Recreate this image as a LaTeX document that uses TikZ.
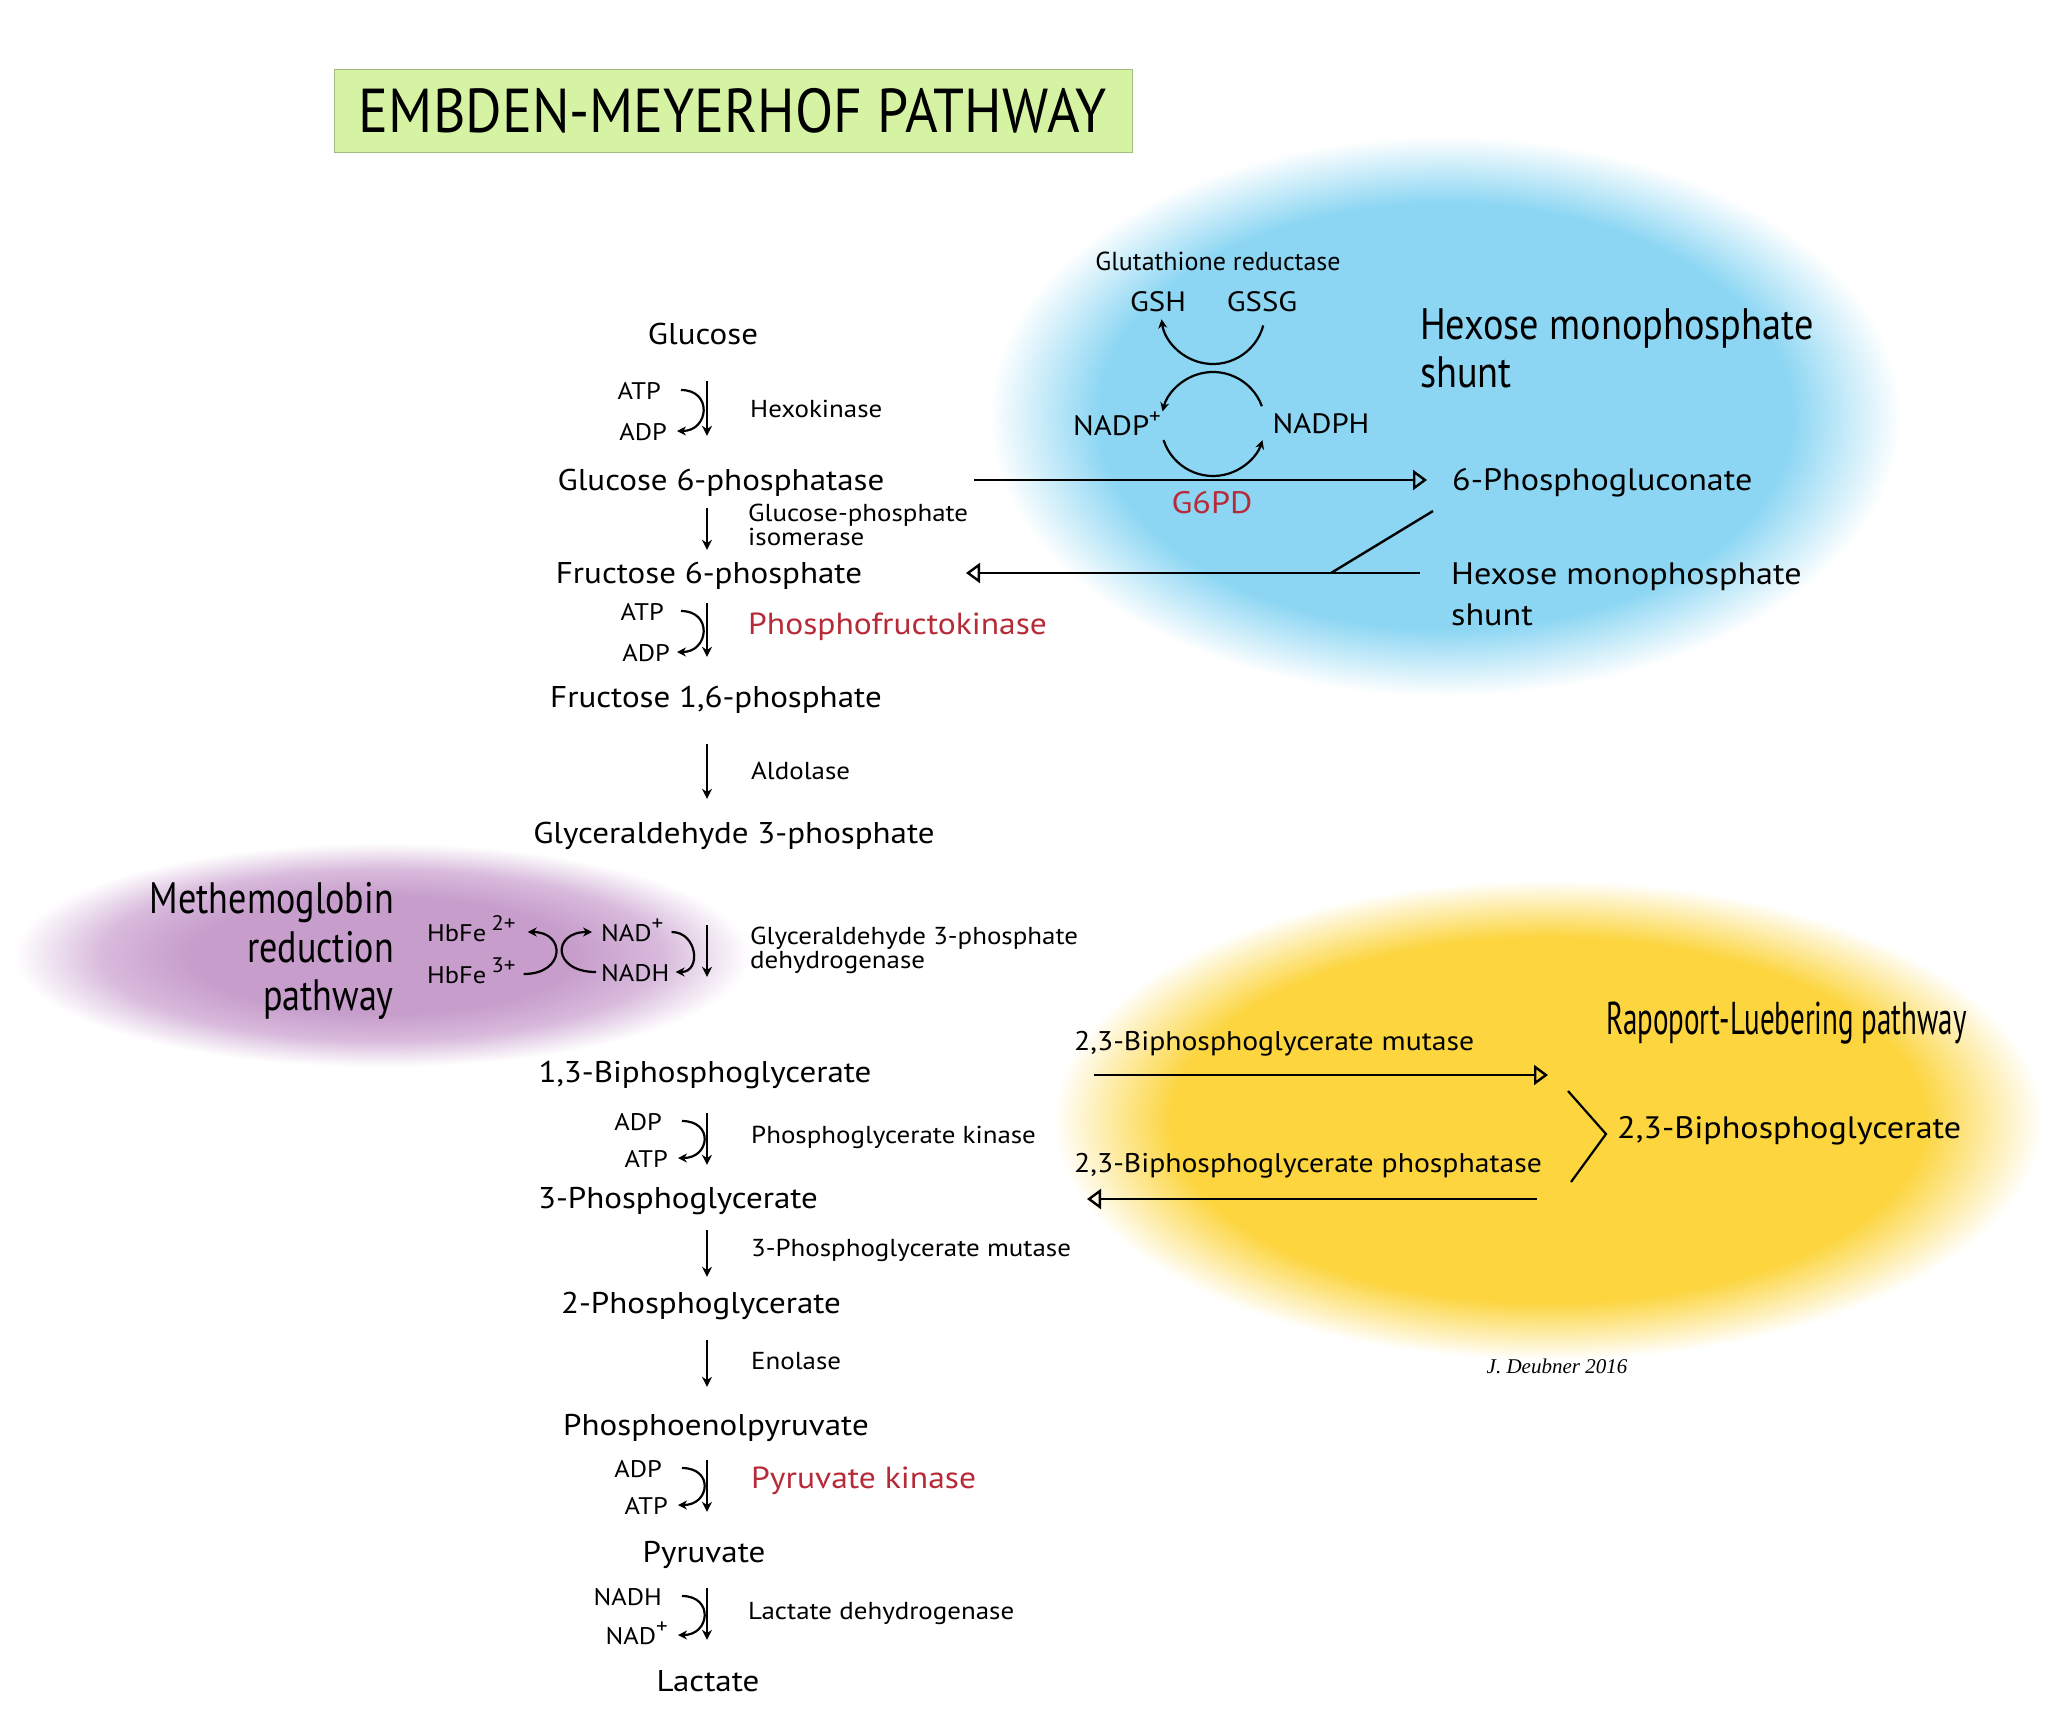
\documentclass[tikz,border=0pt]{standalone}
\usepackage{fontspec}
\setmainfont{PT Sans}[FakeStretch=1.1]
\newfontfamily\plainfont{PT Sans}
\newfontfamily\condA[FakeStretch=0.9]{PT Sans}
\newfontfamily\condB[FakeStretch=0.87]{PT Sans}
\newfontfamily\condC[FakeStretch=0.82]{PT Sans}
\newfontfamily\condD[FakeStretch=0.63]{PT Sans}
\newfontfamily\sigfont{Liberation Serif}
\usetikzlibrary{arrows.meta}
\definecolor{hmpblue}{RGB}{140,214,243}
\definecolor{rlyellow}{RGB}{252,213,63}
\definecolor{mhpurple}{RGB}{198,157,203}
\definecolor{mhpurplelt}{RGB}{216,186,220}
\definecolor{titlegreen}{RGB}{213,243,162}
\definecolor{titleedge}{RGB}{160,190,130}
\definecolor{enzred}{RGB}{183,43,56}
\pgfdeclareradialshading{blueglow}{\pgfpointorigin}{color(0bp)=(hmpblue); color(19bp)=(hmpblue); color(25bp)=(white); color(50bp)=(white)}
\pgfdeclareradialshading{yellowglow}{\pgfpointorigin}{color(0bp)=(rlyellow); color(19bp)=(rlyellow); color(25bp)=(white); color(50bp)=(white)}
\pgfdeclareradialshading{purpleglow}{\pgfpointorigin}{color(0bp)=(mhpurple); color(13bp)=(mhpurple); color(19bp)=(mhpurplelt); color(25bp)=(white); color(50bp)=(white)}
\newcommand\supk[1]{\raisebox{0.42em}{\fontsize{21}{21}\selectfont #1}}
\tikzset{
 met/.style={font=\fontsize{30}{36}\selectfont, inner sep=0pt, text height=21pt, text depth=0pt},
 enz/.style={font=\fontsize{24.5}{24}\selectfont, inner sep=0pt, anchor=west, align=left},
 enzr/.style={font=\fontsize{30.5}{36}\selectfont, inner sep=0pt, anchor=west, text=enzred},
 cof/.style={font=\fontsize{24}{30}\selectfont, inner sep=0pt, text height=18pt, text depth=0pt},
 dn/.style={line width=2.2pt, -{Stealth[length=10pt,width=10pt]}},
 curv/.style={line width=2.2pt, -{Stealth[length=9pt,width=9pt]}},
 opentip/.style={line width=2.4pt, -{Triangle[open,length=14pt,width=20pt,line width=2.4pt]}},
 plain/.style={line width=2.4pt},
}
\begin{document}
\begin{tikzpicture}[x=1pt,y=-1pt]
\useasboundingbox (0,0) rectangle (2048,1716);
\fill[white] (0,0) rectangle (2048,1716);
% glow regions
\shade[shading=blueglow] (1445,416) ellipse[x radius=456, y radius=280];
\shade[shading=yellowglow] (1548,1120) ellipse[x radius=495, y radius=240];
\shade[shading=purpleglow] (382,955) ellipse[x radius=368, y radius=112];
% title
\node[draw=titleedge, line width=1pt, fill=titlegreen, minimum width=798pt, minimum height=83pt, inner sep=0pt,
      font=\condA\fontsize{62}{62}\selectfont] (title) at (733,111) {EMBDEN-MEYERHOF PATHWAY};
% metabolites
\node[met] (glc) at (703,334) {Glucose};
\node[met] (g6p) at (721,480) {Glucose 6-phosphatase};
\node[met] (f6p) at (709,573) {Fructose 6-phosphate};
\node[met] (f16) at (716,697) {Fructose 1,6-phosphate};
\node[met] (g3p) at (734,833) {Glyceraldehyde 3-phosphate};
\node[met] (bpg13) at (705,1072) {1,3-Biphosphoglycerate};
\node[met] (pg3) at (678,1198) {3-Phosphoglycerate};
\node[met] (pg2) at (701,1303) {2-Phosphoglycerate};
\node[met] (pep) at (716,1425) {Phosphoenolpyruvate};
\node[met] (pyr) at (704,1552) {Pyruvate};
\node[met] (lac) at (708,1681) {Lactate};
% enzymes
\node[enz] (hex) at (750,409) {Hexokinase};
\node[enz] (gpi) at (748,525) {Glucose-phosphate\\isomerase};
\node[enzr] (pfk) at (748,627) {Phosphofructokinase};
\node[enz] (ald) at (751,771) {Aldolase};
\node[enz] (gapdh) at (750,950) {Glyceraldehyde 3-phosphate\\dehydrogenase};
\node[enz] (pgk) at (751,1137) {Phosphoglycerate kinase};
\node[enz] (pgm) at (751,1250) {3-Phosphoglycerate mutase};
\node[enz] (eno) at (751,1361) {Enolase};
\node[enzr] (pk) at (751,1481) {Pyruvate kinase};
\node[enz] (ldh) at (748,1614) {Lactate dehydrogenase};
% cofactors
\node[cof, anchor=east] (atpA) at (661,390) {ATP};
\node[cof, anchor=east] (adpA) at (667,431) {ADP};
\node[cof, anchor=east] (atpB) at (664,611) {ATP};
\node[cof, anchor=east] (adpB) at (670,652) {ADP};
\node[cof, anchor=west] (nadA) at (601,932) {NAD\supk{+}};
\node[cof, anchor=west] (nadhA) at (601,972) {NADH};
\node[cof, anchor=east] (adpC) at (662,1121) {ADP};
\node[cof, anchor=east] (atpC) at (668,1158) {ATP};
\node[cof, anchor=east] (adpD) at (662,1468) {ADP};
\node[cof, anchor=east] (atpD) at (668,1505) {ATP};
\node[cof, anchor=east] (nadhD) at (662,1596) {NADH};
\node[cof, anchor=east] (nadD) at (668,1635) {NAD\supk{+}};
% methemoglobin
\node[cof, anchor=west] (hb2) at (427,932) {HbFe\hspace{5pt}\supk{2+}};
\node[cof, anchor=west] (hb3) at (427,974) {HbFe\hspace{5pt}\supk{3+}};
\node[font=\condC\fontsize{44}{48.5}\selectfont, align=right, anchor=east, inner sep=0pt] (mhlabel) at (394,951) {Methemoglobin\\reduction\\pathway};
% vertical arrows
\coordinate (ax) at (707,0);
\draw[dn, shorten <=36.5pt, shorten >=33.5pt] (glc.south -| ax) -- (g6p.north -| ax);
\draw[dn, shorten <=17.5pt, shorten >=12.5pt] (g6p.south -| ax) -- (f6p.north -| ax);
\draw[dn, shorten <=19.5pt, shorten >=29.5pt] (f6p.south -| ax) -- (f16.north -| ax);
\draw[dn, shorten <=36.5pt, shorten >=23.5pt] (f16.south -| ax) -- (g3p.north -| ax);
\draw[dn, shorten <=81.5pt, shorten >=84.5pt] (g3p.south -| ax) -- (bpg13.north -| ax);
\draw[dn, shorten <=30.5pt, shorten >=22.5pt] (bpg13.south -| ax) -- (pg3.north -| ax);
\draw[dn, shorten <=21.5pt, shorten >=15.5pt] (pg3.south -| ax) -- (pg2.north -| ax);
\draw[dn, shorten <=26.5pt, shorten >=27.5pt] (pg2.south -| ax) -- (pep.north -| ax);
\draw[dn, shorten <=24.5pt, shorten >=29.5pt] (pep.south -| ax) -- (pyr.north -| ax);
\draw[dn, shorten <=25.5pt, shorten >=30.5pt] (pyr.south -| ax) -- (lac.north -| ax);
% cofactor curves
\draw[curv] ([xshift=20pt]atpA.east) .. controls +(32,0) and +(32,0) .. ([xshift=10pt]adpA.east);
\draw[curv] ([xshift=17pt]atpB.east) .. controls +(32,0) and +(32,0) .. ([xshift=7pt]adpB.east);
\draw[curv] ([xshift=8pt]nadA.east) .. controls +(26,0) and +(26,0) .. ([xshift=6pt]nadhA.east);
\draw[curv] ([xshift=20pt]adpC.east) .. controls +(32,0) and +(32,0) .. ([xshift=10pt]atpC.east);
\draw[curv] ([xshift=20pt]adpD.east) .. controls +(32,0) and +(32,0) .. ([xshift=10pt]atpD.east);
\draw[curv] ([xshift=20pt]nadhD.east) .. controls +(32,0) and +(32,0) .. ([xshift=10pt]nadD.east);
% methemoglobin coupling curves
\draw[curv] ([xshift=8pt]hb3.east) .. controls +(42,0) and +(38,0) .. ([xshift=12pt]hb2.east);
\draw[curv] ([xshift=-5pt]nadhA.west) .. controls +(-44,0) and +(-40,0) .. ([xshift=-9pt]nadA.west);
% hexose monophosphate shunt
\node[font=\condB\fontsize{44}{48}\selectfont, align=left, anchor=west, inner sep=0pt] (hmptitle) at (1420,348) {Hexose monophosphate\\shunt};
\node[font=\plainfont\fontsize{26}{28}\selectfont, inner sep=0pt] (gr) at (1218,261) {Glutathione reductase};
\node[font=\fontsize{28}{30}\selectfont, inner sep=0pt] (gsh) at (1158,302) {GSH};
\node[font=\fontsize{28}{30}\selectfont, inner sep=0pt] (gssg) at (1262,302) {GSSG};
\node[font=\fontsize{28}{30}\selectfont, inner sep=0pt] (nadp) at (1117,424) {NADP\supk{+}};
\node[font=\fontsize{28}{30}\selectfont, inner sep=0pt] (nadph) at (1321,424) {NADPH};
\node[font=\fontsize{31}{30}\selectfont, inner sep=0pt, text=enzred] (g6pd) at (1212,503) {G6PD};
\node[met, anchor=west, font=\fontsize{31}{36}\selectfont] (pgl) at (1452,480) {6-Phosphogluconate};
\node[font=\fontsize{31}{41}\selectfont, align=left, anchor=west, inner sep=0pt] (hms) at (1451,594) {Hexose monophosphate\\shunt};
\coordinate (cyc) at (1213,424);
\coordinate (gcyc) at (1213,312);
\draw[curv] (gcyc) ++(15:52) arc[start angle=15, end angle=172, radius=52];
\draw[curv] (cyc) ++(-20:52) arc[start angle=-20, end angle=-166, radius=52];
\draw[curv] (cyc) ++(162:52) arc[start angle=162, end angle=18, radius=52];
\coordinate (g6pA) at (974,480);
\draw[opentip, shorten >=25pt] (g6pA) -- (g6pA -| pgl.west);
\coordinate (tipF) at (966,0);
\draw[opentip, shorten <=31pt] (hms.west |- f6p.east) -- (f6p.east -| tipF);
\coordinate (diagA) at (1433,511);
\coordinate (diagB) at (1331,573);
\draw[plain] (diagA) -- (diagB);
% Rapoport-Luebering
\node[font=\condD\fontsize{46}{48}\selectfont, anchor=west, inner sep=0pt] (rltitle) at (1606,1023) {Rapoport-Luebering pathway};
\node[font=\fontsize{27}{30}\selectfont, anchor=west, inner sep=0pt] (mut) at (1074,1044) {2,3-Biphosphoglycerate mutase};
\node[font=\fontsize{27}{30}\selectfont, anchor=west, inner sep=0pt] (pase) at (1074,1166) {2,3-Biphosphoglycerate phosphatase};
\node[font=\fontsize{31}{36}\selectfont, anchor=west, inner sep=0pt] (bpg23) at (1617,1131) {2,3-Biphosphoglycerate};
\coordinate (rlA) at (1094,1075);
\coordinate (rlB) at (1548,1075);
\draw[opentip] (rlA) -- (rlB);
\coordinate (rlC) at (1537,1199);
\coordinate (rlD) at (1087,1199);
\draw[opentip] (rlC) -- (rlD);
\coordinate (brA) at (1568,1091);
\coordinate (brB) at (1606,1134);
\coordinate (brC) at (1571,1182);
\draw[plain, line width=2.2pt] (brA) -- (brB) -- (brC);
% signature
\node[font=\sigfont\itshape\fontsize{21}{24}\selectfont, inner sep=0pt] (sig) at (1557,1366) {J. Deubner 2016};
\end{tikzpicture}
\end{document}
